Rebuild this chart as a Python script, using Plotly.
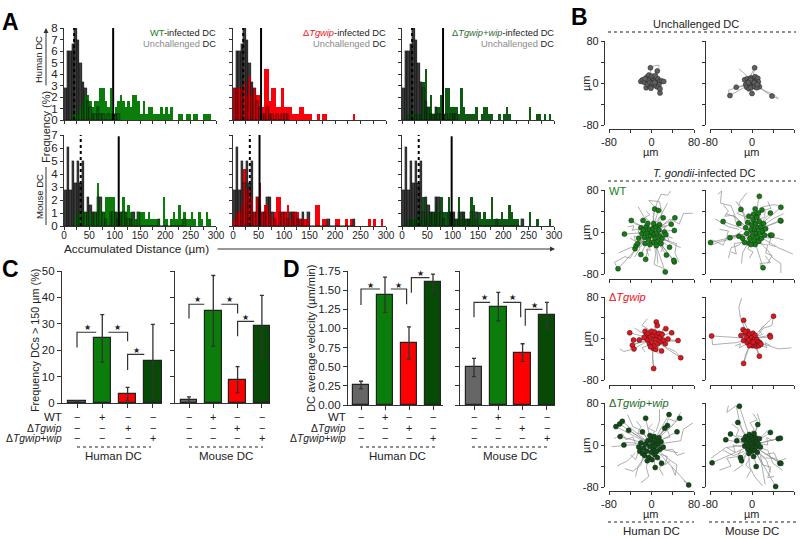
import plotly.graph_objects as go

# ---------- Panel A data: frequency per 5 um bin (0-300 um) ----------
HIST_BIN = 5
HUMAN_UNCH = [2.8,6,6,6.6,8,7,5,3.3,2.75,1.65,1.1,.55,.55,1.1,.55,.55,0,.55,0,.55,.55,.55]
MOUSE_UNCH = [2.8,6.1,2.8,5,3.3,5,3.3,5,1.1,2.2,1.65,1.1,1.1,2.2,2.2,1.1,.55,0,1.1,1.1,1.1,.55,1.1,1.1,1.1,.55,.55,1.1,0,1.1,0,0,0,0,0,0,0,.55,0,0,0,0,0,0,0,0,0,.55]
HUMAN_WT = [0,0,0,.55,.55,.55,1.1,1.65,2.2,2.2,1.65,1.1,1.65,1.65,2.75,2.75,1.65,1.1,2.75,.55,1.1,1.65,2.2,1.65,1.1,1.65,1.1,2.2,2.2,1.65,.55,1.65,.55,1.1,1.1,.55,.55,.55,1.1,.55,1.1,.55,1.1,0,0,.55,.55,0,.55,.55,0,.55,.55,0,0,.55,.55,.55,0,0]
HUMAN_DEL = [2.8,2.8,2.8,2.8,3.3,2.2,3.85,2.2,2.75,2.2,2.2,1.1,4.4,4.4,1.65,2.75,2.75,1.1,1.1,2.75,1.1,1.1,1.1,.55,.55,.55,1.1,1.1,.55,.55,.55,0,0,.55,0,.55,.55,0,0,0,0,0,0,0,0,0,0,.55,0,0,0,0,0,0,0,0,0,0,0,0]
HUMAN_RES = [0,0,.55,1.1,.55,.55,.55,.55,3.3,4.4,1.1,2.2,.55,1.1,1.1,2.2,.55,2.75,2.75,1.1,1.1,1.1,.55,2.75,1.1,.55,.55,.55,.55,1.1,0,.55,1.1,1.1,.55,.55,0,0,.55,0,.55,1.1,.55,0,0,0,0,0,0,0,1.1,0,0,.55,.55,0,.55,0,.55,0]
MOUSE_WT = [0,0,0,0,.55,1.1,1.1,1.1,1.1,.55,1.1,.55,1.1,3.3,1.65,1.1,2.2,2.2,2.2,2.2,1.1,1.1,1.1,2.2,1.1,1.65,1.1,.55,.55,1.1,1.1,1.1,.55,1.1,.55,.55,.55,.55,0,2.2,.55,0,.55,1.1,.55,1.65,.55,1.1,.55,.55,1.1,.55,0,1.1,.55,0,1.1,.55,0,0]
MOUSE_DEL = [.55,1.1,1.1,1.65,4.4,2.75,2.75,2.2,1.1,2.2,3.3,1.1,1.65,1.65,1.1,.55,1.1,2.2,2.2,1.1,1.1,1.65,.55,1.1,1.1,1.1,.55,.55,.55,.55,0,0,1.65,1.65,0,.55,.55,0,0,0,.55,.55,0,0,.55,0,.55,0,0,0,0,0,0,.55,0,.55,0,0,.55,0]
MOUSE_RES = [0,0,.55,.55,.55,.55,1.1,.55,2.2,.55,1.1,1.1,1.1,1.65,1.1,2.2,1.1,1.1,2.2,1.1,.55,.55,2.2,.55,1.1,.55,.55,2.2,1.65,.55,1.1,.55,1.1,.55,.55,2.2,.55,.55,.55,1.1,.55,.55,1.65,1.1,.55,.55,0,0,0,0,1.1,0,0,.55,0,0,0,0,.55,0]

MED_DOTTED = [20, 20, 20, 33, 33, 33]
MED_SOLID = [97, 55, 81, 108, 52, 98]
MED_TOP = [8, 8, 8, 6.9, 7, 6.9]
HIST_COLORS = ["#0b7d0b", "#fa000a", "#0e5a14"] * 2

# ---------- Panels C / D data ----------
CATS = [0, 1, 2, 3]
BAR_COLORS = ["#666666", "#0a7d0a", "#ff0000", "#064a06"]
C_H = [.7, 24.5, 3.4, 16]; C_H_UP = [.9, 33.5, 5.9, 29.8]; C_H_LO = [.5, 15.5, 1, 2.5]
C_M = [1.1, 35, 8.9, 29]; C_M_UP = [2.3, 48.3, 13.8, 40.8]; C_M_LO = [-1.5, 21.5, 3.9, 17]
D_H = [.26, 1.44, .81, 1.6]; D_H_UP = [.31, 1.67, 1.02, 1.71]; D_H_LO = [.21, 1.21, .6, 1.49]
D_M = [.49, 1.28, .68, 1.17]; D_M_UP = [.61, 1.47, .8, 1.34]; D_M_LO = [.37, 1.1, .57, .99]
ROW_WT = ["\u2212", "+", "\u2212", "\u2212"]
ROW_DEL = ["\u2212", "\u2212", "+", "\u2212"]
ROW_RES = ["\u2212", "\u2212", "\u2212", "+"]

# significance brackets: (x0, x1, top, drop end, drop side) and star positions
BR_C_H = [(0, .76, 26.8, 21, 0), (1.24, 2, 26.8, 23.4, 1), (2, 2.66, 18.4, 12.5, 0)]
BR_C_M = [(0, .63, 37.4, 32, 0), (1.33, 2, 37.4, 33.9, 1), (2, 2.68, 30.9, 25.3, 0)]
BR_D_H = [(0, .79, 1.515, 1.306, 0), (1.24, 1.9, 1.515, 1.315, 1), (2.1, 2.85, 1.663, 1.467, 0)]
BR_D_M = [(0, .66, 1.341, 1.145, 0), (1.2, 1.92, 1.341, 1.145, 1), (2.11, 2.82, 1.25, 1.036, 0)]

# ---------- Panel B data: end points and tracks in um ----------
PTS_UH = [(-2,29),(11,23),(16,-19),(-10,-9),(-20,3),(-17,6),(-13,1),(-9,11),(-5,15),(-2,9),(1,13),(4,5),(8,10),(12,8),(15,3),(19,4),(23,3),(14,-3),(10,-7),(16,-11),(5,-4),(0,-3),(-4,-6),(-8,-2),(-6,5),(-3,1),(2,0),(6,1),(-1,-10),(7,14),(-12,8)]
PTS_UM = [(5,29),(-42,-24),(38,-25),(-30,-8),(0,-20),(14,-7),(-12,-3),(-14,6),(-9,8),(-5,4),(-2,10),(2,7),(6,12),(8,5),(11,9),(12,2),(7,-1),(3,-3),(-1,-1),(-5,-5),(-10,-8),(-6,-11),(-2,-9),(5,-7),(9,-9),(1,3),(4,1),(-3,6),(-7,1),(10,-3)]
PTS_WH = [(-63,-70),(-51,-4),(-38,22),(-16,22),(6,44),(13,41),(22,27),(44,27),(43,3),(37,15),(-20,-43),(-11,-52),(-31,-32),(-29,-26),(-26,-22),(34,-29),(28,-44),(43,-57),(42,-54),(26,-76),(-20,8),(-18,-3),(-15,4),(-13,-10),(-10,10),(-8,-2),(-6,-14),(-4,5),(-2,-7),(0,0),(2,-20),(3,7),(5,-4),(7,-12),(8,10),(10,-2),(12,-18),(14,4),(16,-8),(18,-22),(20,-12),(24,0),(27,-5),(-24,-12),(-12,-22),(-3,-24),(9,-26),(-7,16),(4,16),(15,14)]
PTS_WM = [(14,68),(55,47),(55,21),(54,22),(35,36),(-79,-20),(-55,20),(-42,-11),(-21,43),(-25,16),(-25,-8),(-18,-12),(21,-68),(-6,-21),(6,44),(19,42),(35,-6),(38,-6),(-12,8),(-10,-3),(-8,18),(-6,30),(-4,-12),(-2,4),(0,14),(1,-6),(2,24),(3,34),(4,-16),(5,5),(6,-24),(7,16),(8,-3),(9,28),(10,-10),(11,8),(12,36),(13,-18),(14,20),(15,-2),(17,10),(18,-12),(20,2),(22,16),(24,-6),(-14,-20),(-2,-24),(26,6)]
PTS_DH = [(-41,11),(-34,-3),(-23,-3),(-36,-13),(-33,-20),(4,-58),(55,-37),(50,-4),(38,11),(27,19),(9,32),(11,25),(19,-24),(31,-1),(26,-10),(3,-19),(8,-21),(-12,14),(-10,6),(-8,-3),(-6,10),(-4,-10),(-2,3),(0,14),(1,-7),(3,6),(5,-14),(6,12),(8,-2),(10,6),(12,-10),(14,10),(16,2),(18,-6),(20,8),(-14,2),(-2,-16),(22,-3)]
PTS_DM = [(-77,5),(-16,35),(41,43),(34,6),(35,3),(-16,-48),(14,-34),(-17,17),(-21,6),(-16,-4),(-9,-8),(-12,10),(-10,2),(-8,14),(-6,-3),(-4,8),(-2,-10),(0,2),(1,-14),(2,10),(3,-5),(4,-12),(5,0),(6,6),(7,-8),(8,-15),(9,-2),(10,-10),(12,-6),(13,-14),(15,-8),(17,-11),(-5,-14),(2,-7),(-13,13)]
PTS_RH = [(-67,35),(-60,40),(-55,45),(-59,16),(-52,0),(-43,28),(-11,51),(33,58),(53,51),(48,25),(30,37),(25,32),(70,-76),(7,-43),(19,-35),(-17,25),(-24,-4),(-22,-12),(-20,4),(-17,-16),(-15,-6),(-13,-20),(-11,2),(-9,-12),(-7,8),(-5,-24),(-3,-3),(-1,10),(0,-14),(1,-28),(3,4),(4,-8),(5,16),(6,-18),(7,-2),(9,8),(10,-12),(11,-24),(13,2),(14,14),(-3,18),(16,-8),(18,6),(22,-4),(-8,-30)]
PTS_RM = [(-24,74),(-27,43),(-41,21),(-50,10),(-76,-34),(11,39),(35,24),(50,12),(54,13),(53,-35),(55,-35),(45,-79),(8,-41),(-22,-24),(-20,-30),(3,-22),(-29,8),(-16,10),(-14,-2),(-12,16),(-10,4),(-8,-8),(-7,12),(-5,20),(-4,-2),(-2,8),(-1,-12),(0,16),(1,2),(2,-5),(3,11),(4,22),(5,-10),(6,4),(7,14),(8,-3),(9,7),(10,-14),(12,2),(14,12),(-6,-16),(16,-4)]
TR_UH = [[(-2,29),(6,33),(14,34),(14,29)],[(16,-19),(10,-10),(3,-5)],[(11,23),(6,12),(1,4)]]
TR_UM = [[(-42,-24),(-45,-14),(-30,-9),(-12,-5)],[(38,-25),(50,-30),(42,-22),(25,-15),(15,-9),(5,-3)],[(-25,27),(-10,14),(-2,5)],[(5,29),(-2,15),(0,4)]]
TR_WH = [[(-63,-70),(-70,-58),(-50,-47),(-40,-50),(-28,-28),(-15,-12)],[(36,78),(30,70),(18,72),(10,55),(3,30),(6,12)],[(78,36),(60,35),(52,15),(35,25),(15,8)],[(4,50),(-5,60),(15,58),(20,35),(10,15)],[(52,-58),(44,-40),(47,-22),(25,-15)],[(26,-76),(20,-68),(5,-62),(8,-40),(3,-15)],[(-62,-40),(-40,-30),(-20,-28),(-12,-10)],[(55,-30),(35,-20),(20,-10)],[(-38,22),(-30,15),(-12,10)],[(-25,48),(-15,30),(-5,15)],[(12,-60),(10,-30),(8,-12)],[(30,55),(18,32),(8,18)],
 [(-45,10),(-33,12),(-36,3),(-24,6),(-25,-3),(-12,-1)],[(-40,-12),(-30,-18),(-33,-8),(-18,-12),(-20,-4)],[(40,-12),(30,-8),(33,-18),(20,-15),(18,-5)],[(-5,-45),(-10,-33),(-2,-35),(-6,-22),(2,-18)],[(18,-38),(22,-28),(12,-25),(16,-15),(6,-10)],[(-10,40),(-3,33),(-12,28),(-4,20),(-8,10)],[(32,-2),(24,6),(28,12),(16,10),(18,2)],[(-32,-48),(-22,-32),(-26,-20),(-14,-18)]]
TR_WM = [[(-65,72),(-58,78),(-60,55),(-40,50),(-30,25),(-10,10)],[(-70,25),(-45,10),(-25,5)],[(-78,-25),(-60,-18),(-35,-12),(-15,-5)],[(78,-42),(50,-30),(20,-12)],[(55,-78),(55,-60),(40,-50),(30,-35),(15,-20)],[(18,-68),(15,-60),(35,-58),(25,-45)],[(55,50),(40,52),(20,48),(12,20)],[(-10,75),(-25,55),(-15,35),(-5,15)],[(-45,-50),(-40,-30),(-25,-25),(-10,-10)],[(-20,-60),(-18,-40),(-8,-22)],[(60,-15),(40,-10),(20,-5)],[(60,35),(40,25),(20,12)],[(-50,35),(-30,28),(-14,12)],[(-75,-15),(-55,-25),(-48,-10),(-30,-6)],
 [(-55,52),(-45,40),(-52,30),(-35,32),(-28,12),(-18,14)],[(-40,-38),(-30,-42),(-34,-22),(-20,-20),(-18,-8)],[(30,-60),(38,-45),(26,-40),(30,-25),(16,-22),(12,-8)],[(-5,-50),(2,-38),(-8,-32),(-2,-20),(5,-12)],[(30,58),(36,45),(25,42),(24,28),(12,24)],[(45,-28),(32,-24),(36,-12),(22,-10)],[(-30,58),(-22,45),(-28,35),(-15,30),(-12,15)],[(-62,5),(-45,2),(-48,-8),(-28,-6),(-20,2)]]
TR_DH = [[(-60,-20),(-52,-25),(-40,-22),(-35,-12),(-20,-6)],[(4,-58),(2,-40),(3,-18)],[(55,-37),(45,-25),(30,-18),(15,-8)],[(-8,38),(-18,25),(-6,18),(-5,8)],[(48,-5),(35,-5),(20,-2)],[(-32,20),(-20,12),(-10,6)],[(-30,-5),(-22,2),(-24,-8),(-14,-6)],[(15,-30),(8,-25),(12,-16),(5,-10)],[(30,14),(20,18),(22,8),(12,5)],[(-12,-26),(-18,-18),(-8,-14)]]
TR_DM = [[(-77,5),(-75,-12),(-55,-10),(-30,-8),(-15,-4)],[(-20,78),(-25,60),(-22,40),(-15,22),(-5,8)],[(75,-18),(50,-20),(35,-15),(15,-8)],[(41,43),(38,25),(22,20),(10,5)],[(-16,-48),(-12,-30),(-5,-15)],[(14,-34),(10,-20),(5,-10)],[(35,-14),(25,-8),(28,-18),(16,-12)],[(-32,-14),(-22,-10),(-24,-18),(-12,-12)],[(22,25),(14,14),(20,8),(10,4)]]
TR_RH = [[(70,-76),(60,-68)],[(-75,-3),(-60,-2),(-50,5),(-30,3),(-12,2)],[(-50,-45),(-35,-50),(-20,-38),(-15,-18)],[(-65,-40),(-45,-30),(-30,-15)],[(38,-42),(45,-58),(48,-38),(30,-25),(12,-10)],[(-20,-72),(-5,-60),(-10,-42),(-3,-20)],[(78,42),(60,30),(55,8),(30,5),(12,2)],[(55,62),(45,45),(32,50),(22,25),(8,8)],[(-45,58),(-35,35),(-20,28),(-8,12)],[(50,-15),(38,-12),(20,-8)],[(-30,-60),(-25,-40),(-12,-22)],[(15,68),(15,45),(8,25)],
 [(-70,12),(-55,22),(-48,10),(-35,15),(-30,2)],[(35,-30),(25,-38),(30,-22),(18,-18)],[(-40,-18),(-30,-28),(-25,-14),(-14,-14)],[(42,40),(30,28),(35,15),(22,12)],[(-28,45),(-20,35),(-26,22),(-12,20)],[(2,40),(-6,32),(6,26),(-2,16)],[(22,-58),(15,-45),(22,-32),(10,-25)],[(62,-15),(48,-20),(40,-8),(26,-10)]]
TR_RM = [[(-78,-25),(-50,-5),(-28,-2),(-10,0)],[(-45,75),(-48,62),(-30,75),(-25,50),(-18,25),(-5,10)],[(60,-40),(45,-25),(25,-25),(10,-12)],[(20,-78),(5,-60),(-5,-40),(-6,-18)],[(25,-75),(22,-55),(18,-35),(8,-15)],[(-35,-50),(-20,-40),(-12,-20)],[(58,-48),(40,-35),(30,-10),(14,-5)],[(10,60),(15,45),(5,25)],[(30,28),(18,15),(8,8)],[(-55,-10),(-35,-20),(-15,-12)],[(35,-52),(28,-30),(12,-15)],
 [(-62,-48),(-40,-40),(-48,-25),(-28,-22),(-20,-8)],[(2,60),(10,48),(-4,42),(4,30),(-4,22)],[(42,-60),(30,-62),(36,-42),(20,-38),(16,-20)],[(40,8),(28,14),(30,0),(18,2)],[(-38,40),(-25,30),(-30,18),(-15,15)],[(65,-25),(50,-32),(42,-15),(26,-18)],[(-10,-62),(-2,-48),(-12,-38),(-4,-25)],[(-48,-5),(-32,-14),(-36,0),(-20,-3)]]

GRAY_DOT = "#5f5f5f"; GREEN_DOT = "#108010"; RED_DOT = "#e8121c"; DARK_DOT = "#0e4d14"
TRACK_PANELS = [
    (PTS_UH, TR_UH, GRAY_DOT), (PTS_UM, TR_UM, GRAY_DOT),
    (PTS_WH, TR_WH, GREEN_DOT), (PTS_WM, TR_WM, GREEN_DOT),
    (PTS_DH, TR_DH, RED_DOT), (PTS_DM, TR_DM, RED_DOT),
    (PTS_RH, TR_RH, DARK_DOT), (PTS_RM, TR_RM, DARK_DOT)]

W, H = 800, 539
AX = "#333333"
FONT = "Liberation Sans"
def px(x): return x / W
def py(y): return 1 - y / H

fig = go.Figure()
layout = {}
annots = []
axis_no = [0]

def new_axes(x0, x1, ytop, ybot, xopt, yopt):
    axis_no[0] += 1
    n = axis_no[0]
    s = "" if n == 1 else str(n)
    base = dict(showgrid=False, zeroline=False, showline=True, linecolor=AX, linewidth=1.3,
                ticks="outside", tickcolor=AX, tickwidth=1.2, ticklen=3,
                tickfont=dict(family=FONT, size=11, color="#222"))
    layout["xaxis" + s] = {**base, "domain": [px(x0), px(x1)], "anchor": "y" + s, **xopt}
    layout["yaxis" + s] = {**base, "domain": [py(ybot), py(ytop)], "anchor": "x" + s, **yopt}
    return "x" + s, "y" + s

def ann(x, y, text, size=12, xa="center", color="#222", angle=0, bold=False):
    dx = {"left": -2, "right": 2, "center": 0}[xa]
    annots.append(dict(x=px(x + dx), y=py(y), xref="paper", yref="paper", text=f"<b>{text}</b>" if bold else text,
                       showarrow=False, xanchor=xa, yanchor="middle", textangle=angle,
                       font=dict(family=FONT, size=size, color=color)))

# ---------- Panel A ----------
HIST_COLS = [(64, 216), (233, 386), (402, 554)]
HIST_ROWS = [(28, 120, 8), (135, 226, 7)]
HIST_FG = [HUMAN_WT, HUMAN_DEL, HUMAN_RES, MOUSE_WT, MOUSE_DEL, MOUSE_RES]
k = 0
for r, (yt, yb, ymax) in enumerate(HIST_ROWS):
    unch = HUMAN_UNCH if r == 0 else MOUSE_UNCH
    for c, (xl, xr) in enumerate(HIST_COLS):
        tv = list(range(0, 301, 25))
        tt = [str(v) if (r == 1 and v % 50 == 0) else "" for v in tv]
        yv = list(range(0, ymax + 1))
        xa, ya = new_axes(xl, xr, yt, yb,
                          dict(range=[0, 300], tickvals=tv, ticktext=tt, ticklen=2.5, ticklabelstandoff=-3,
                               tickfont=dict(family=FONT, size=10, color="#222")),
                          dict(range=[0, ymax], tickvals=yv, showticklabels=(c == 0), ticklen=3,
                               tickfont=dict(family=FONT, size=11.5, color="#222")))
        fg = HIST_FG[k]
        xu = [i * HIST_BIN + 2.5 for i in range(len(unch))]
        fig.add_bar(x=xu, y=unch, width=HIST_BIN, xaxis=xa, yaxis=ya,
                    marker=dict(color="#484848", line=dict(width=0)))
        fig.add_bar(x=[i * HIST_BIN + 2.5 for i in range(len(fg))], y=fg, width=HIST_BIN, xaxis=xa, yaxis=ya,
                    marker=dict(color=HIST_COLORS[k], line=dict(width=0)))
        fig.add_bar(x=xu, y=unch, width=HIST_BIN, xaxis=xa, yaxis=ya,
                    marker=dict(color="rgba(20,20,20,0.22)", line=dict(width=0.4, color="#0a0a0a")))
        fig.add_scatter(x=[MED_DOTTED[k]] * 2, y=[0, ymax], mode="lines", xaxis=xa, yaxis=ya,
                        line=dict(color="#000", width=2, dash="dot"))
        fig.add_scatter(x=[MED_SOLID[k]] * 2, y=[0, MED_TOP[k]], mode="lines", xaxis=xa, yaxis=ya,
                        line=dict(color="#000", width=2))
        k += 1

G = "#8a8a8a"
LEG = 9.3
ann(216, 33, '<span style="color:#128012">WT</span>-infected DC', LEG, "right")
ann(216, 44, f'<span style="color:{G}">Unchallenged</span> DC', LEG, "right")
ann(386, 33, '<span style="color:#e8121c">\u0394<i>Tgwip</i></span>-infected DC', LEG, "right")
ann(386, 44, f'<span style="color:{G}">Unchallenged</span> DC', LEG, "right")
ann(554, 33, '<span style="color:#2f6a33">\u0394<i>Tgwip+wip</i></span>-infected DC', LEG, "right")
ann(554, 44, f'<span style="color:{G}">Unchallenged</span> DC', LEG, "right")
ann(39, 60, "Human DC", 9.5, angle=-90)
ann(39, 197, "Mouse DC", 9.5, angle=-90)
ann(46, 127, "Frequency (%)", 11, angle=-90)
ann(64, 249, "Accumulated Distance (\u00b5m)", 11.8, "left")
for letter, lx, ly in [("A", 2, 22), ("B", 571, 17), ("C", 2, 269), ("D", 283, 269)]:
    ann(lx, ly, letter, 23, "left", "#000", bold=True)
annots.append(dict(x=px(46), y=py(28), ax=0, ay=59, xref="paper", yref="paper", axref="pixel", ayref="pixel",
                   showarrow=True, arrowhead=2, arrowsize=1, arrowwidth=1, arrowcolor=AX, text=""))
annots.append(dict(x=px(555), y=py(249), ax=-339, ay=0, xref="paper", yref="paper", axref="pixel", ayref="pixel",
                   showarrow=True, arrowhead=2, arrowsize=1, arrowwidth=1, arrowcolor=AX, text=""))
shapes = [dict(type="line", xref="paper", yref="paper", x0=px(46), x1=px(46), y0=py(167), y1=py(225),
               line=dict(color=AX, width=1))]

def dotted(x0, x1, y):
    shapes.append(dict(type="line", xref="paper", yref="paper", x0=px(x0), x1=px(x1), y0=py(y), y1=py(y),
                       line=dict(color="#222", width=1.2, dash="dot")))

# ---------- Panels C / D ----------
def bar_panel(axl, axr, c0, spacing, ytop, ybot, ymax, ticks, labels, vals, up, lo, brackets, star_pos, show_labels):
    xmin = (axl - c0) / spacing
    xmax = (axr - c0) / spacing
    xa, ya = new_axes(axl, axr, ytop, ybot,
                      dict(range=[xmin, xmax], tickvals=CATS, ticktext=["", "", "", ""], ticklen=4),
                      dict(range=[0, ymax], tickvals=ticks, ticktext=labels, showticklabels=show_labels, ticklen=4,
                           tickfont=dict(family=FONT, size=11.5, color="#222")))
    fig.add_bar(x=CATS, y=vals, width=0.68, xaxis=xa, yaxis=ya,
                marker=dict(color=BAR_COLORS, line=dict(color="#222", width=1.2)),
                error_y=dict(type="data", symmetric=False,
                             array=[u - v for u, v in zip(up, vals)],
                             arrayminus=[v - l for v, l in zip(vals, lo)],
                             color=AX, thickness=1.3, width=2))
    for b in brackets:
        x0, x1, top, drop, side = b
        if side == 0:
            bx, by = [x0, x0, x1], [drop, top, top]
        else:
            bx, by = [x0, x1, x1], [top, top, drop]
        fig.add_scatter(x=bx, y=by, mode="lines", xaxis=xa, yaxis=ya, line=dict(color=AX, width=1.2))
    for sx, sy in star_pos:
        annots.append(dict(x=sx, y=sy, xref=xa, yref=ya, text="\u2605", showarrow=False, yanchor="middle",
                           font=dict(family="DejaVu Sans", size=8, color="#222")))
    return xa

C_TICKS = [0, 10, 20, 30, 40, 50]
D_TICKS = [0, .25, .5, .75, 1, 1.25, 1.5, 1.75]
D_LAB = ["0.00", "0.25", "0.50", "0.75", "1.00", "1.25", "1.50", "1.75"]
bar_panel(62, 162, 77, 25.3, 271, 403, 50, C_TICKS, [str(t) for t in C_TICKS], C_H, C_H_UP, C_H_LO, BR_C_H,
          [(.4, 28.5), (1.6, 28.5), (2.35, 19.8)], True)
bar_panel(175, 270, 189, 24.3, 271, 403, 50, C_TICKS, [str(t) for t in C_TICKS], C_M, C_M_UP, C_M_LO, BR_C_M,
          [(.33, 39.2), (1.66, 39.2), (2.34, 32.4)], False)
bar_panel(348, 443, 361, 24, 271, 405, 1.75, D_TICKS, D_LAB, D_H, D_H_UP, D_H_LO, BR_D_H,
          [(.4, 1.567), (1.57, 1.567), (2.47, 1.72)], True)
bar_panel(460, 555, 474, 24.3, 271, 405, 1.75, D_TICKS, D_LAB, D_M, D_M_UP, D_M_LO, BR_D_M,
          [(.43, 1.4), (1.58, 1.4), (2.47, 1.3)], False)

ann(35, 341, "Frequency DCs > 150 \u00b5m (%)", 10.8, angle=-90)
ann(311, 338, "DC average velocity (\u00b5m/min)", 11.2, angle=-90)

ROW_Y = [417, 428, 438]
def pm_rows(centers, right, label=True):
    for rowy, vals, name, fs in zip(ROW_Y, [ROW_WT, ROW_DEL, ROW_RES],
                                    ["WT", "\u0394<i>Tgwip</i>", "\u0394<i>Tgwip+wip</i>"], [11.5, 10.3, 10.3]):
        if label:
            ann(right, rowy, name, fs, "right")
        for cx, v in zip(centers, vals):
            ann(cx, rowy, v, 11)

pm_rows([77, 102, 128, 153], 62)
pm_rows([189, 213, 237, 262], 0, False)
pm_rows([361, 385, 409, 433], 346)
pm_rows([474, 498, 522, 547], 0, False)
for a, b, t in [(77, 151, "Human DC"), (189, 263, "Mouse DC"), (360, 435, "Human DC"), (472, 548, "Mouse DC")]:
    dotted(a, b, 447)
    ann((a + b) / 2, 456, t, 11.5)

# ---------- Panel B ----------
B_COLS = [(609, 694, 604), (710, 794, 705)]
B_ROWS = [(41, 125, 129, True), (190, 274, 279, False), (297, 380, 385, False), (403, 487, 491, True)]
idx = 0
for r, (yt, yb, xy, xlabels) in enumerate(B_ROWS):
    for c, (xl, xr, yx) in enumerate(B_COLS):
        pts, tracks, col = TRACK_PANELS[idx]
        xa, ya = new_axes(xl, xr, yt, yb,
                          dict(range=[-80, 80], tickvals=[-80, -40, 0, 40, 80],
                               ticktext=["-80", "", "0", "", "80"], showticklabels=xlabels,
                               anchor="free", position=py(xy), ticklen=3),
                          dict(range=[-80, 80], tickvals=[-80, -40, 0, 40, 80],
                               ticktext=["-80", "", "0", "", "80"], showticklabels=(c == 0),
                               anchor="free", position=px(yx), ticklen=3))
        lx, ly = [], []
        for t in tracks:
            lx += [q[0] for q in t] + [None]
            ly += [q[1] for q in t] + [None]
        for p in pts:
            lx += [0, p[0], None]; ly += [0, p[1], None]
        fig.add_scatter(x=lx, y=ly, mode="lines", xaxis=xa, yaxis=ya, line=dict(color="#8c8c8c", width=0.7))
        fig.add_scatter(x=[p[0] for p in pts], y=[p[1] for p in pts], mode="markers", xaxis=xa, yaxis=ya,
                        cliponaxis=False,
                        marker=dict(size=5, color=col, line=dict(color="#222", width=0.5)))
        idx += 1
    if xlabels:
        ann(651, yb + 27, "\u00b5m", 11); ann(752, yb + 27, "\u00b5m", 11)
    ann(586, (yt + yb) / 2, "\u00b5m", 11, angle=-90)

ann(696, 24, "Unchallenged DC", 11)
dotted(608, 796, 32)
ann(704, 173, "<i>T. gondii</i>-infected DC", 11)
dotted(608, 796, 181)
ann(609, 191, "WT", 11, "left", "#128012")
ann(609, 297, "\u0394<i>Tgwip</i>", 11, "left", "#e8121c")
ann(609, 403, "\u0394<i>Tgwip+wip</i>", 11, "left", "#1d6a25")
dotted(608, 694, 522); dotted(709, 796, 522)
ann(651, 531, "Human DC", 11.5); ann(752, 531, "Mouse DC", 11.5)

fig.update_layout(width=W, height=H, margin=dict(l=0, r=0, t=0, b=0, autoexpand=False), barmode="overlay", showlegend=False,
                  plot_bgcolor="white", paper_bgcolor="white", bargap=0,
                  annotations=annots, shapes=shapes, **layout)
fig.write_html("out.html", config={"displayModeBar": False}, post_script="document.body.style.margin='0';")
